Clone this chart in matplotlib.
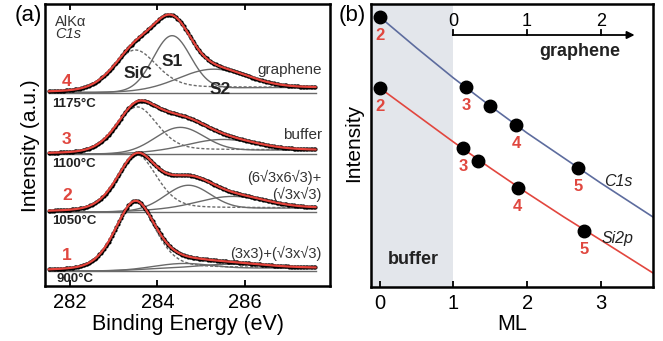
import numpy as np
import matplotlib.pyplot as plt

plt.rcParams['font.family'] = ['Liberation Sans', 'DejaVu Sans']

# ---- panel (a): C1s spectra, fit components ----
temps = ['900°C', '1050°C', '1100°C', '1175°C']
stage = ['1', '2', '3', '4']
phases = ['(3x3)+(√3x√3)', '(6√3x6√3)+\n(√3x√3)', 'buffer', 'graphene']
base = [15, 74, 132, 193.5]
sic_pos = [283.49, 283.53, 283.53, 283.49]
sic_amp = [68, 56, 46, 41.5]
sic_hw = [0.54, 0.54, 0.56, 0.60]
s1_pos = [284.60, 284.70, 284.51, 284.33]
s1_amp = [5, 24, 24, 54]
s1_hw = [0.70, 0.60, 0.65, 0.50]
s2_pos = [285.70, 285.70, 285.47, 285.27]
s2_amp = [4, 12, 11, 19]
s2_hw = [0.90, 0.90, 0.90, 0.90]
bg_step = [3, 4, 4, 5]
e_min, e_max = 281.52, 287.62

# ---- panel (b): attenuation vs thickness ----
ml_c1s = [0, 1.17, 1.50, 1.85, 2.69]
int_c1s = [270, 200, 181, 162, 119]
num_c1s = ['2', '3', '', '4', '5']
ml_si = [0, 1.13, 1.33, 1.87, 2.77]
int_si = [199, 139, 126, 99, 56]
num_si = ['2', '3', '', '4', '5']
fit_ml = [0, 0.5, 1, 1.5, 2, 2.5, 3, 3.71]
fit_c1s = [270, 239, 209, 181, 154, 129, 104, 70]
fit_si = [199, 172, 145, 119, 94, 70, 47, 14]
graphene_ticks = [0, 1, 2]

RED = '#e5433b'
NUMRED = '#e0473f'
TXT = '#333333'
GRAY = '#6a6a6a'


def pvoigt(x, c, a, hw, eta=0.0):
    u = (x - c) / hw
    return a * ((1 - eta) * np.exp(-np.log(2) * u ** 2) + eta / (1 + u ** 2))


fig = plt.figure(figsize=(6.63, 3.41), dpi=100)
axa = fig.add_axes([45 / 663, 1 - 286 / 341, 285 / 663, 282 / 341])
axb = fig.add_axes([371 / 663, 1 - 287 / 341, 282 / 663, 283 / 341])

e = np.linspace(e_min, e_max, 400)
e_dots = np.arange(e_min, e_max, 0.035)
for i in range(4):
    def comps(x):
        sic = pvoigt(x, sic_pos[i], sic_amp[i], sic_hw[i], 0.35)
        s1 = pvoigt(x, s1_pos[i], s1_amp[i], s1_hw[i])
        s2 = pvoigt(x, s2_pos[i], s2_amp[i], s2_hw[i])
        tot = sic + s1 + s2
        cum = np.cumsum(tot)
        bg = bg_step[i] * cum / cum[-1]
        return sic, s1, s2, bg

    sic, s1, s2, bg = comps(e)
    b0 = base[i]
    axa.plot([e_min, e_max], [b0, b0], color=GRAY, lw=1.0, zorder=2)
    axa.plot(e, b0 + bg + sic, color=GRAY, lw=1.0, ls=(0, (2.2, 1.4)), zorder=2)
    axa.plot(e, b0 + bg + s1, color=GRAY, lw=1.0, zorder=2)
    axa.plot(e, b0 + bg + s2, color=GRAY, lw=1.0, zorder=2)
    # data points
    ds, d1, d2, dbg = comps(e_dots)
    axa.scatter(e_dots, b0 + dbg + ds + d1 + d2, s=9, color='black', lw=0, zorder=3)
    axa.plot(e, b0 + bg + sic + s1 + s2, color=RED, lw=1.6, zorder=4)

# annotations of panel (a), positions in eV / intensity units
stage_y = [31, 91, 146, 204]
temp_x = [281.70, 281.59, 281.59, 281.59]
temp_y = [7, 65, 122, 182]
phase_y = [33, 100.5, 151, 216]
for i in range(4):
    axa.text(281.93, stage_y[i], stage[i], color=NUMRED, fontsize=12.5,
             fontweight='bold', ha='center', va='center', zorder=5)
    axa.text(temp_x[i], temp_y[i], temps[i], color='#222222', fontsize=9.5,
             fontweight='bold', ha='left', va='center', zorder=5)
    axa.text(287.76, phase_y[i], phases[i], color=TXT,
             fontsize=11 if i >= 2 else 10.5, ha='right', va='center',
             multialignment='right', linespacing=1.15, zorder=5)
axa.text(283.55, 212, 'SiC', fontsize=12.5, fontweight='bold', color='#222222',
         ha='center', va='center', zorder=5)
axa.text(284.35, 224, 'S1', fontsize=12.5, fontweight='bold', color='#222222',
         ha='center', va='center', zorder=5)
axa.text(285.43, 197, 'S2', fontsize=12.5, fontweight='bold', color='#222222',
         ha='center', va='center', zorder=5)
axa.text(281.66, 264.5, 'AlKα', fontsize=10.5, color=TXT, ha='left', va='center')
axa.text(281.66, 251.5, 'C1s', fontsize=10.5, color=TXT, style='italic',
         ha='left', va='center')

axa.set_xlim(281.43, 287.95)
axa.set_ylim(0, 282)
axa.set_xticks([282, 284, 286])
axa.set_yticks([])
axa.tick_params(axis='x', direction='in', top=True, length=4, width=1.3,
                labelsize=14.5, pad=5)

# ---- panel (b) ----
axb.axvspan(-0.2, 1, color='#e3e6eb', lw=0, zorder=0)
axb.plot(fit_ml, fit_c1s, color='#5d6c9e', lw=1.2, zorder=2)
axb.plot(fit_ml, fit_si, color='#e2463e', lw=1.2, zorder=2)
axb.plot(ml_c1s, int_c1s, 'o', color='black', ms=9, zorder=3, clip_on=False)
axb.plot(ml_si, int_si, 'o', color='black', ms=9, zorder=3, clip_on=False)
for x, y, t in zip(ml_c1s, int_c1s, num_c1s):
    axb.annotate(t, (x, y), xytext=(0, -13), textcoords='offset points',
                 color=NUMRED, fontsize=12, fontweight='bold',
                 ha='center', va='center', zorder=4)
for x, y, t in zip(ml_si, int_si, num_si):
    axb.annotate(t, (x, y), xytext=(0, -13), textcoords='offset points',
                 color=NUMRED, fontsize=12, fontweight='bold',
                 ha='center', va='center', zorder=4)

# graphene thickness axis inside the panel
axb.annotate('', xy=(3.46, 252), xytext=(0.99, 252),
             arrowprops=dict(arrowstyle='-|>', lw=1.3, color='black',
                             mutation_scale=11, shrinkA=0, shrinkB=0))
for g in graphene_ticks:
    axb.plot([1 + g, 1 + g], [252, 257.5], color='black', lw=1.3)
    axb.text(1 + g, 266, str(g), fontsize=13, ha='center', va='center')
axb.text(2.71, 235, 'graphene', fontsize=13, fontweight='bold', color='#222222',
         ha='center', va='center')
axb.text(0.45, 28, 'buffer', fontsize=13, fontweight='bold', color='#222222',
         ha='center', va='center')
axb.text(3.24, 105, 'C1s', fontsize=11.5, style='italic', color='#222222',
         ha='center', va='center')
axb.text(3.23, 48, 'Si2p', fontsize=11.5, style='italic', color='#222222',
         ha='center', va='center')

axb.set_xlim(-0.12, 3.71)
axb.set_ylim(0, 283)
axb.set_xticks([0, 1, 2, 3])
axb.set_yticks([])
axb.tick_params(axis='x', direction='in', length=4, width=1.3,
                labelsize=14.5, pad=5)

for ax in (axa, axb):
    for sp in ax.spines.values():
        sp.set_linewidth(1.8)

fig.text(31 / 663, 1 - 146 / 341, 'Intensity (a.u.)', rotation=90, fontsize=15,
         ha='center', va='center')
fig.text(187.5 / 663, 1 - 330 / 341, 'Binding Energy (eV)', fontsize=15.5,
         ha='center', va='baseline')
fig.text(354 / 663, 1 - 143 / 341, 'Intensity', rotation=90, fontsize=15,
         ha='center', va='center')
fig.text(512 / 663, 1 - 330 / 341, 'ML', fontsize=15.5, ha='center',
         va='baseline')
fig.text(28 / 663, 1 - 15 / 341, '(a)', fontsize=16, ha='center', va='center')
fig.text(352 / 663, 1 - 16 / 341, '(b)', fontsize=16, ha='center', va='center')

fig.savefig('out.png', dpi=100)
